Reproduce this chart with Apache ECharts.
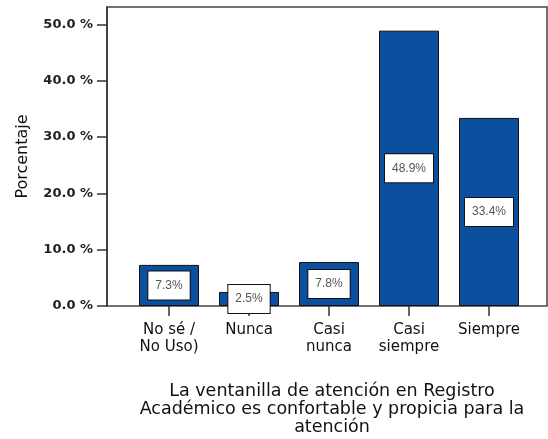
<!DOCTYPE html>
<html>
<head>
<meta charset="utf-8">
<script src="https://cdn.jsdelivr.net/npm/echarts@6/dist/echarts.min.js"></script>
<style>
  html, body { margin: 0; padding: 0; background: #fff; }
  #chart { width: 548px; height: 439px; }
</style>
</head>
<body>
<div id="chart"></div>
<script>
const categories = ['No sé /\nNo Uso)', 'Nunca', 'Casi\nnunca', 'Casi\nsiempre', 'Siempre']
const porcentaje = [7.3, 2.5, 7.8, 48.9, 33.4]
const yTicks = [0, 10, 20, 30, 40, 50]
const yMax = 53.1
const xTitle = 'La ventanilla de atención en Registro\nAcadémico es confortable y propicia para la\natención'

const chart = echarts.init(document.getElementById('chart'))
const axisColor = '#333'

chart.setOption({
  animation: false,
  textStyle: { fontFamily: 'DejaVu Sans, sans-serif' },
  title: {
    text: xTitle,
    left: 327,
    top: 377,
    textAlign: 'center',
    textStyle: {
      fontFamily: 'DejaVu Sans',
      fontSize: 17.5,
      fontWeight: 'normal',
      color: '#111',
      lineHeight: 18
    }
  },
  grid: [
    // frame
    { left: 107, right: 1, top: 7, bottom: 133, show: true, borderColor: '#444', borderWidth: 1.5, backgroundColor: 'transparent' },
    // bars
    { left: 129, right: 19, top: 7, bottom: 133 }
  ],
  xAxis: [
    { gridIndex: 0, type: 'value', min: 0, max: 1, show: false },
    {
      gridIndex: 1,
      type: 'category',
      data: categories,
      axisLine: { show: false },
      axisTick: { show: true, alignWithLabel: true, length: 10, lineStyle: { color: axisColor, width: 1.5 } },
      axisLabel: {
        color: '#111',
        fontSize: 15,
        lineHeight: 17,
        margin: 16,
        interval: 0
      }
    }
  ],
  yAxis: [
    {
      gridIndex: 0,
      type: 'value',
      min: yTicks[0],
      max: yMax,
      interval: 10,
      name: 'Porcentaje',
      nameLocation: 'middle',
      nameGap: 76,
      nameTextStyle: { color: '#111', fontSize: 16 },
      splitLine: { show: false },
      axisLine: { show: true, lineStyle: { color: axisColor, width: 1.5 } },
      axisTick: { show: true, length: 10, lineStyle: { color: axisColor, width: 1.5 } },
      axisLabel: {
        color: '#222',
        fontSize: 13,
        fontWeight: 'bold',
        margin: 14,
        showMaxLabel: false,
        formatter: v => yTicks.includes(v) ? v.toFixed(1) + ' %' : ''
      }
    },
    { gridIndex: 1, type: 'value', min: 0, max: yMax, show: false }
  ],
  series: [{
    type: 'bar',
    xAxisIndex: 1,
    yAxisIndex: 1,
    data: porcentaje,
    barWidth: 60,
    itemStyle: { color: '#0b4f9f', borderColor: '#111', borderWidth: 1 },
    label: {
      show: true,
      position: 'inside',
      formatter: p => p.value.toFixed(1) + '%',
      color: '#555',
      fontFamily: 'Liberation Sans, Arial, sans-serif',
      fontSize: 12,
      backgroundColor: '#fff',
      borderColor: '#111',
      borderWidth: 1,
      padding: [8, 7]
    }
  }]
})
</script>
</body>
</html>
